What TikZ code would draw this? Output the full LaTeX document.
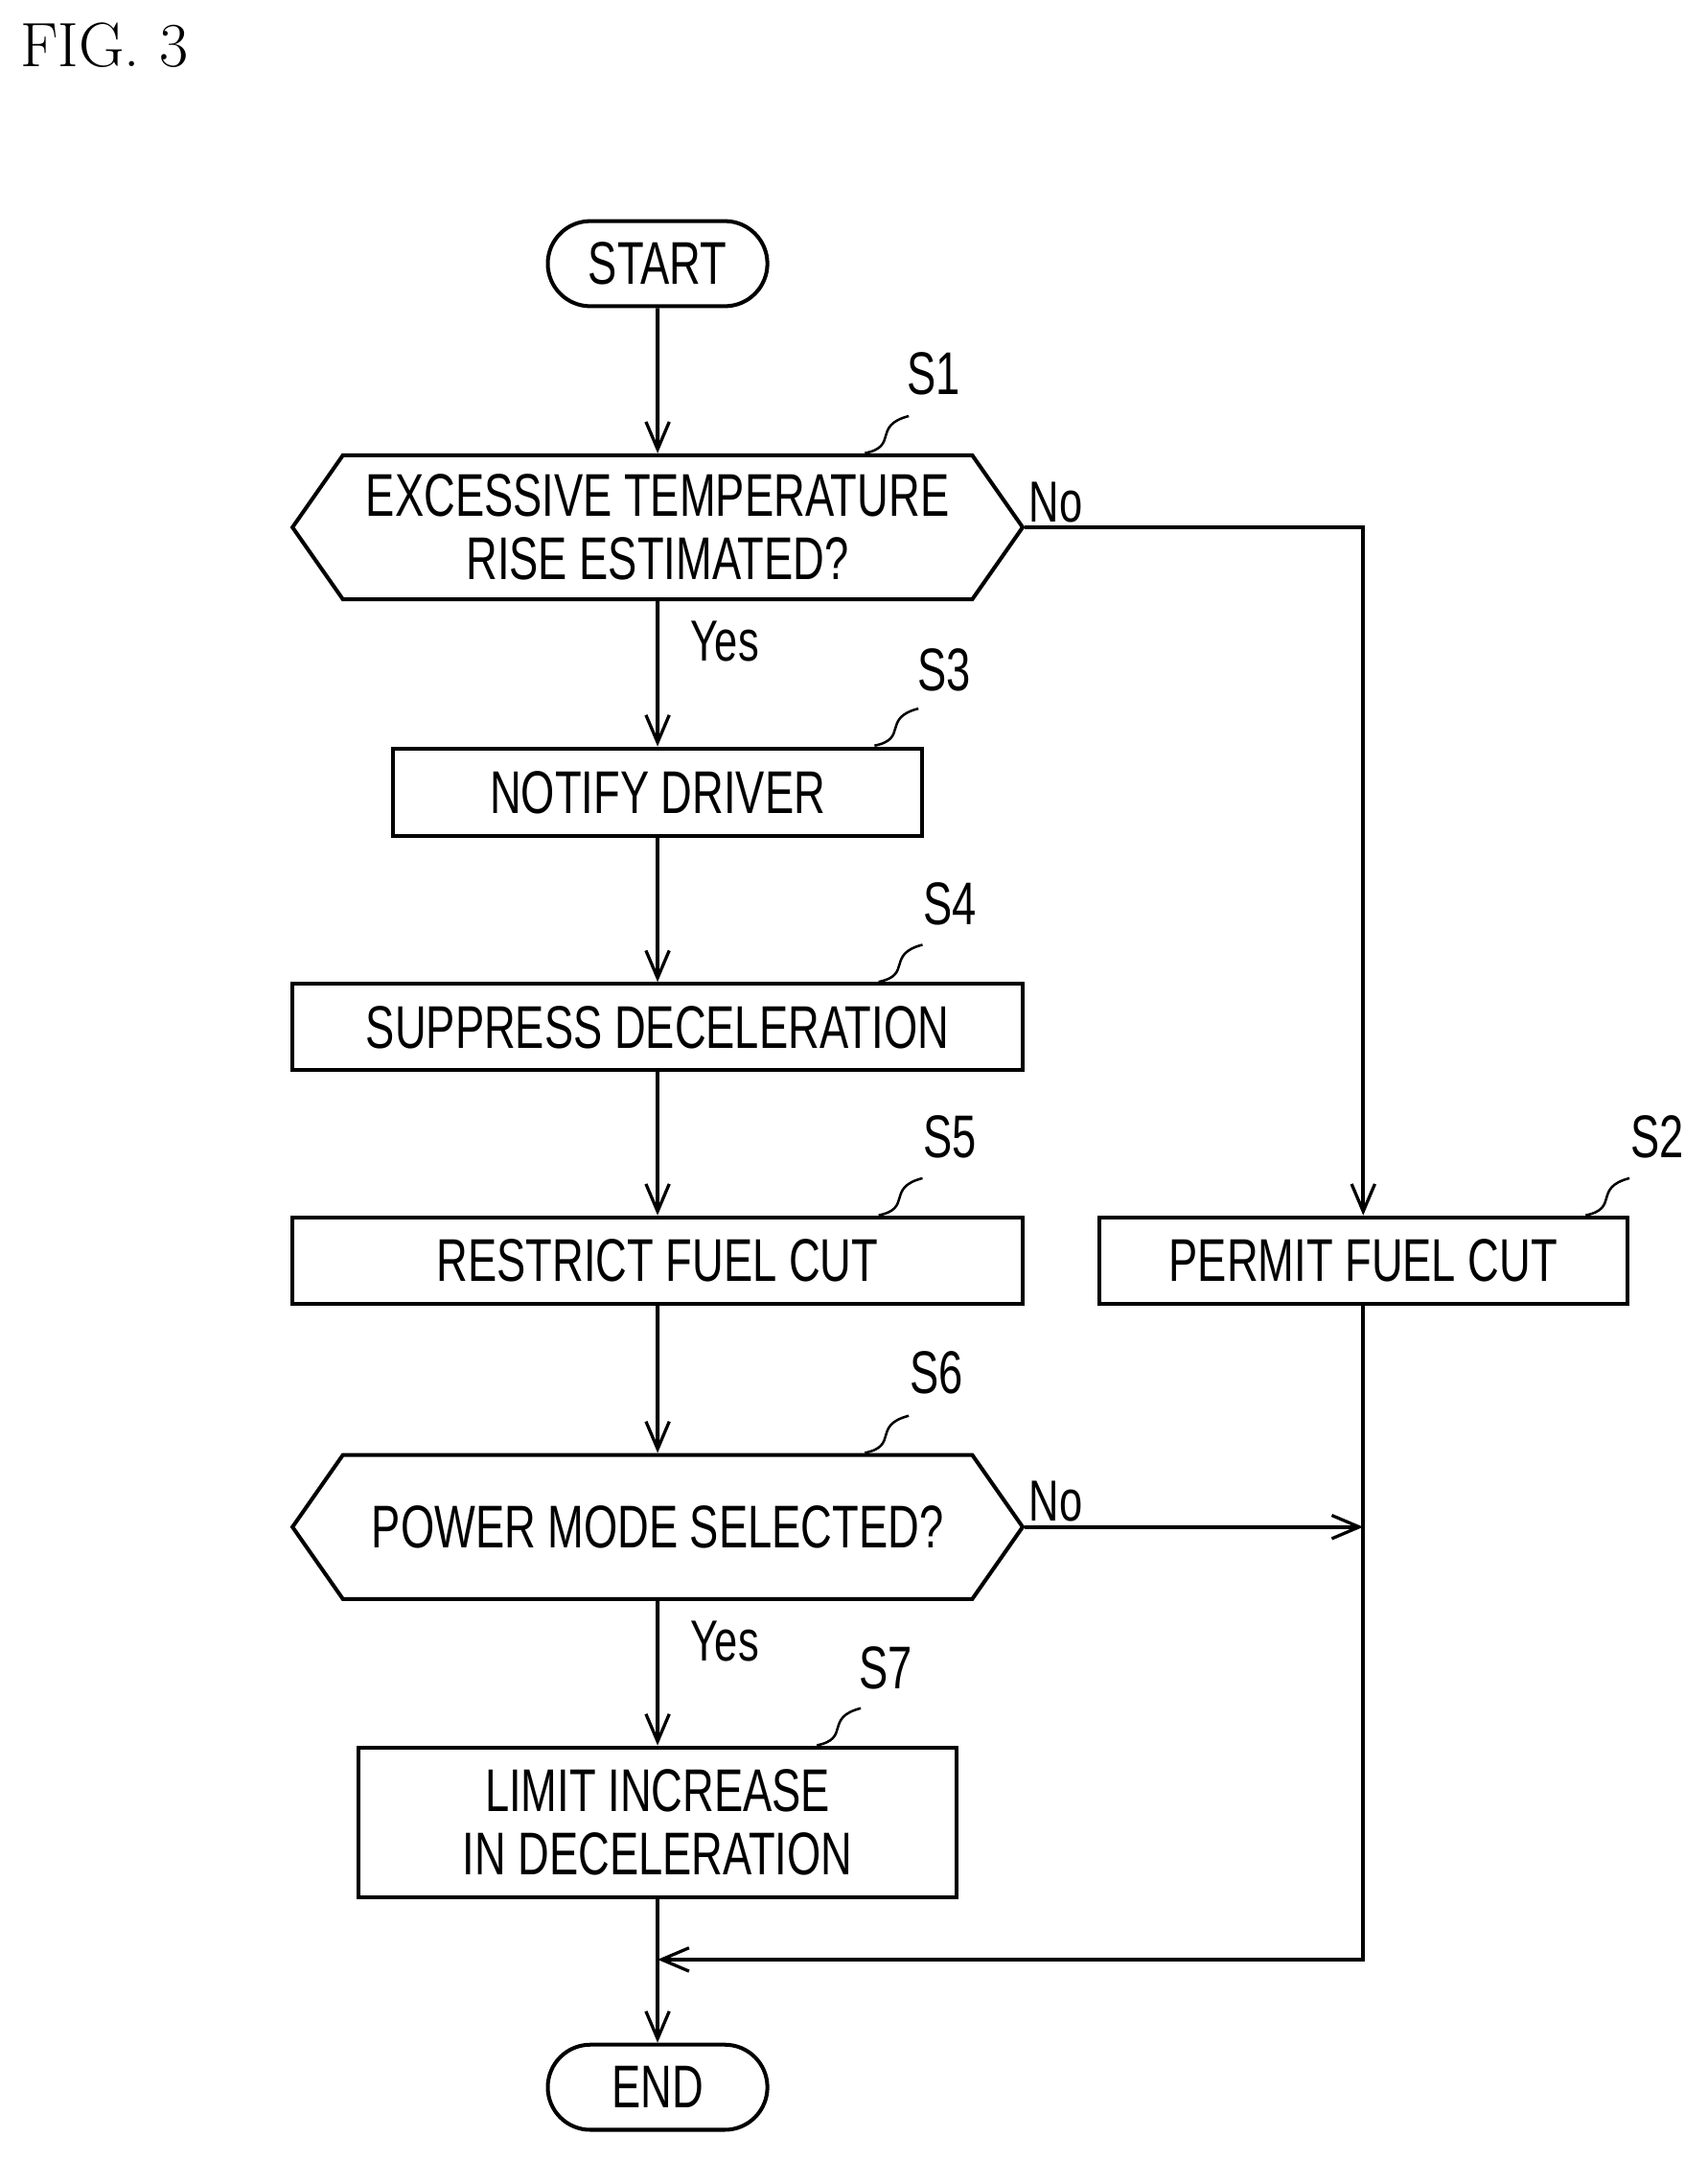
\documentclass[tikz,border=0pt]{standalone}
\usepackage{fontspec}
\setsansfont{Liberation Sans}
\usetikzlibrary{arrows.meta,shapes.symbols,positioning}
\newcommand{\nar}[1]{\scalebox{0.72}[1]{#1}}
\tikzset{
  box/.style={draw,line width=1.6pt,inner sep=0pt,font=\sffamily\fontsize{25}{34}\selectfont,align=center},
  term/.style={box,rounded corners=0.62cm,minimum width=3.2cm,minimum height=1.24cm},
  decide/.style={box,shape=signal,signal to=east and west,signal pointer angle=110,minimum width=10.64cm,minimum height=2.1cm},
  flow/.style={line width=1.6pt,-{Straight Barb[length=0.4cm,width=0.34cm,line width=1.3pt]}},
  stepno/.style={font=\sffamily\fontsize{25}{30}\selectfont},
  yn/.style={font=\sffamily\fontsize{24}{30}\selectfont}
}
\begin{document}
\begin{tikzpicture}[x=0.02cm,y=-0.02cm]
	\useasboundingbox (0,0) rectangle (1244,1573);
	\node[font=\fontsize{26}{30}\selectfont] (fig) at (76,33) {FIG. 3};
	% boxes
	\node[term] (start) at (479,192) {\nar{START}};
	\node[decide] (s1) at (479,384) {\nar{EXCESSIVE TEMPERATURE}\\[-8pt]\nar{RISE ESTIMATED?}};
	\node[box,minimum width=7.7cm,minimum height=1.28cm] (s3) at (479,577) {\nar{NOTIFY DRIVER}};
	\node[box,minimum width=10.64cm,minimum height=1.26cm] (s4) at (479,748) {\nar{SUPPRESS DECELERATION}};
	\node[box,minimum width=10.64cm,minimum height=1.26cm] (s5) at (479,918) {\nar{RESTRICT FUEL CUT}};
	\node[box,minimum width=7.7cm,minimum height=1.26cm] (s2) at (993,918) {\nar{PERMIT FUEL CUT}};
	\node[decide] (s6) at (479,1112) {\nar{POWER MODE SELECTED?}};
	\node[box,minimum width=8.72cm,minimum height=2.18cm] (s7) at (479,1327) {\nar{LIMIT INCREASE}\\[-8pt]\nar{IN DECELERATION}};
	\node[term] (end) at (479,1520) {\nar{END}};
	%%%%%
	\coordinate (nojoin) at (993,1112);
	\coordinate (merge) at (479,1427);
	\draw[flow] (start) -- (s1);
	\draw[flow] (s1) -- (s3);
	\draw[flow] (s3) -- (s4);
	\draw[flow] (s4) -- (s5);
	\draw[flow] (s5) -- (s6);
	\draw[flow] (s6) -- (s7);
	\draw[flow] (s1.east) -| (s2.north);
	\draw[flow] (s6.east) -- (nojoin);
	\draw[flow] (s2.south) |- (merge);
	\draw[flow] (s7.south) -- (end);
	% yes / no
	\node[yn] (y1) at (528,467) {\nar{Yes}};
	\node[yn] (y6) at (528,1195) {\nar{Yes}};
	\node[yn] (n1) at (769,366) {\nar{No}};
	\node[yn] (n6) at (769,1093) {\nar{No}};
	% step labels
	\foreach \nm/\lx/\ly/\ax/\ay in {S1/680/272/630/330, S3/688/488/637/543, S4/692/658/640/715,
		S5/692/828/640/885, S2/1207/828/1155/885, S6/682/1000/630/1058, S7/645/1215/595/1271}{
		\node[stepno] (l\nm) at (\lx,\ly) {\nar{\nm}};
		\draw[line width=1pt] (\ax,\ay) .. controls (\ax+25,\ay-5) and (\ax+5,\ay-20) .. (\ax+32,\ay-27);
	}
\end{tikzpicture}
\end{document}
